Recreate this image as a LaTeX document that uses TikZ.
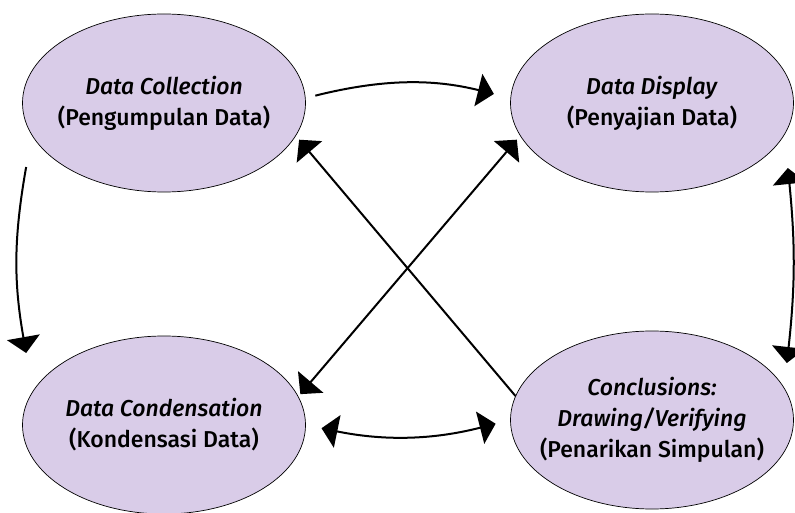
\documentclass[tikz,border=0pt]{standalone}
\usepackage{fontspec}
\setmainfont{Fira Sans Medium}[ItalicFont={Fira Sans Medium Italic}]
\usetikzlibrary{arrows.meta,shapes.geometric}
\definecolor{lavender}{RGB}{217,204,232}

\begin{document}
\begin{tikzpicture}[x=1pt,y=1pt,line width=2pt,
  stage/.style={draw,ellipse,line width=0.7pt,fill=lavender,minimum width=283pt,minimum height=178pt,inner xsep=-40pt,inner ysep=0pt,align=center,font=\fontsize{23}{31}\selectfont},
  arr/.style={-{Triangle[length=16pt,width=33pt]}},
  both/.style={{Triangle[length=16pt,width=33pt]}-{Triangle[length=16pt,width=33pt]}}]

  \useasboundingbox (0,0) rectangle (795,512);

  \node [stage] (coll)  at (164,409) {\textit{Data Collection}\\(Pengumpulan Data)};
  \node [stage] (disp)  at (652,409) {\textit{Data Display}\\(Penyajian Data)};
  \node [stage] (cond)  at (164,87)  {\textit{Data Condensation}\\(Kondensasi Data)};
  \node [stage] (concl) at (652,92)  {\textit{Conclusions:}\\\textit{Drawing/Verifying}\\(Penarikan Simpulan)};

  % outer loop
  \draw [arr,shorten <=10pt,shorten >=17pt] (coll.2) to[bend left=14] (disp.178);
  \draw [arr] ([xshift=4pt,yshift=-64pt]coll.west) to[bend right=10] ([xshift=4pt,yshift=72pt]cond.west);
  \draw [both,shorten <=16pt,shorten >=15pt] (cond.0) to[bend right=13] (concl.180);
  \draw [both] ([xshift=-6pt,yshift=-65pt]disp.east) to[bend left=6] ([xshift=-7pt,yshift=57pt]concl.east);

  % cross
  \draw [arr,shorten >=5pt] (concl.170) -- (coll.-14);
  \draw [both,shorten <=3pt,shorten >=5pt] (cond.12) -- (disp.194);

\end{tikzpicture}
\end{document}
